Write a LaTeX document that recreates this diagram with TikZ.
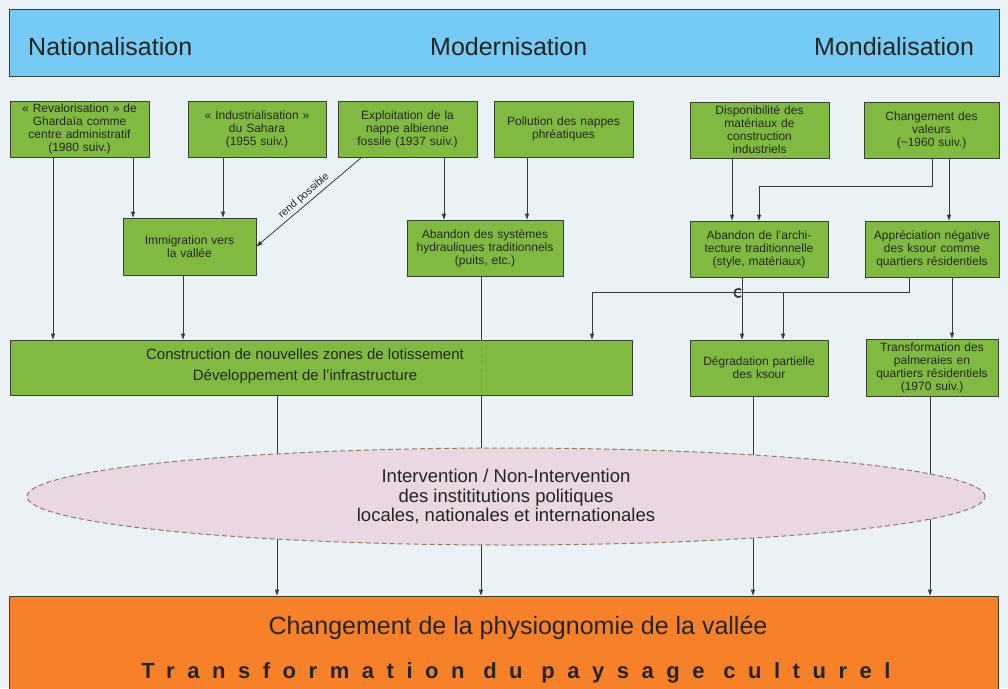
\documentclass[tikz,border=0pt]{standalone}
\usepackage{fontspec}
\setmainfont{Liberation Sans}
\newfontfamily\spacedfont{Liberation Sans}[LetterSpace=57]
\usetikzlibrary{shapes.geometric,arrows.meta,calc}
\definecolor{bgcol}{RGB}{234,242,245}
\definecolor{headblue}{RGB}{118,203,246}
\definecolor{boxgreen}{RGB}{128,186,64}
\definecolor{boxline}{RGB}{55,65,45}
\definecolor{linecol}{RGB}{55,58,55}
\definecolor{ellfill}{RGB}{233,215,226}
\definecolor{elldash}{RGB}{150,122,100}
\definecolor{orangebox}{RGB}{247,129,40}
\definecolor{txt}{RGB}{35,38,32}
\definecolor{innerdash}{RGB}{205,135,60}
\tikzset{
  gbox/.style={draw=boxline, fill=boxgreen, line width=0.8pt, inner sep=1pt,
    align=center, text=txt, font=\fontsize{12}{13}\selectfont},
  arr/.style={draw=linecol, line width=0.8pt, -{Triangle[length=6pt,width=4pt]}},
  arrrev/.style={draw=linecol, line width=0.8pt, {Triangle[length=6pt,width=4pt]}-},
  ln/.style={draw=linecol, line width=0.8pt},
  headtxt/.style={anchor=base west, inner sep=0, text=txt, font=\fontsize{25}{28}\selectfont}
}
\begin{document}
\begin{tikzpicture}[x=1pt,y=-1pt]
\fill[bgcol] (0,0) rectangle (1008,688);
\useasboundingbox (0,0) rectangle (1008,688);

% header
\node[draw=boxline, fill=headblue, line width=0.8pt, minimum width=990, minimum height=67, inner sep=0] (head) at (504,42.5) {};
\node[headtxt] (nat) at (28,55) {Nationalisation};
\node[headtxt] (mod) at (430,55) {Modernisation};
\node[headtxt] (mond) at (814,55) {Mondialisation};

% top row
\node[gbox, minimum width=139, minimum height=56, text width=135] (reval) at (79.5,129) {« Revalorisation » de\\Ghardaïa comme\\centre administratif\\(1980 suiv.)};
\node[gbox, minimum width=138, minimum height=56, text width=134] (indus) at (257,129) {« Industrialisation »\\du Sahara\\(1955 suiv.)};
\node[gbox, minimum width=139, minimum height=56, text width=135] (exploit) at (407.5,129) {Exploitation de la\\nappe albienne\\fossile (1937 suiv.)};
\node[gbox, minimum width=139, minimum height=56, text width=135] (pollu) at (563.5,129) {Pollution des nappes\\phréatiques};
\node[gbox, minimum width=139, minimum height=56, text width=135] (dispo) at (759.5,130) {Disponibilité des\\matériaux de\\construction\\industriels};
\node[gbox, minimum width=135, minimum height=56, text width=131] (chang) at (931.5,130) {Changement des\\valeurs\\(\textasciitilde1960 suiv.)};

% second row
\node[gbox, minimum width=133, minimum height=57, text width=129] (immig) at (189.5,246.5) {Immigration vers\\la vallée};
\node[gbox, minimum width=156, minimum height=56, text width=152] (abandsys) at (485,248) {Abandon des systèmes\\hydrauliques traditionnels\\(puits, etc.)};
\node[gbox, minimum width=138, minimum height=56, text width=134] (abandarch) at (759,249) {Abandon de l'archi-\\tecture traditionnelle\\(style, matériaux)};
\node[gbox, minimum width=134, minimum height=56, text width=130] (apprec) at (932,249) {Appréciation négative\\des ksour comme\\quartiers résidentiels};

% third row
\node[gbox, minimum width=622, minimum height=55] (constr) at (321,367.5) {};
\node[inner sep=0, align=center, text=txt, font=\fontsize{15}{21}\selectfont] (constrtxt) at (305,366) {Construction de nouvelles zones de lotissement\\Développement de l'infrastructure};
\node[gbox, minimum width=138, minimum height=56, text width=134] (degrad) at (759,368) {Dégradation partielle\\des ksour};
\node[gbox, minimum width=132, minimum height=57, text width=130] (transf) at (932,367.5) {Transformation des\\palmeraies en\\quartiers résidentiels\\(1970 suiv.)};

% bottom orange box
\node[draw=boxline, fill=orangebox, line width=0.8pt, minimum width=989, minimum height=104, inner sep=0] (final) at (503.5,648) {};
\node[anchor=base, inner sep=0, text=txt, font=\fontsize{25}{28}\selectfont] (phys) at (518,634) {Changement de la physiognomie de la vallée};
\node[anchor=base, inner sep=0, text=txt, font=\spacedfont\bfseries\fontsize{22}{24}\selectfont] (paysage) at (516,678) {Transformation du paysage culturel};

% x coordinates of vertical connectors
\coordinate (xa) at (53,0);
\coordinate (xb) at (133,0);
\coordinate (xc) at (223,0);
\coordinate (xd) at (183,0);
\coordinate (xe) at (444,0);
\coordinate (xf) at (527,0);
\coordinate (xg) at (732,0);
\coordinate (xj) at (949,0);
\coordinate (xk) at (742,0);
\coordinate (xn) at (952,0);
\coordinate (xp) at (277,0);
\coordinate (xq) at (481,0);
\coordinate (xr) at (753,0);
\coordinate (xs) at (930,0);
\coordinate (hA) at (932,186);
\coordinate (hB) at (759,186);
\coordinate (jA) at (909,292);
\coordinate (jB) at (592,292);
\coordinate (jM) at (783,292);

% connectors
\draw[arr] (reval.south -| xa) -- (constr.north -| xa);
\draw[arr] (reval.south -| xb) -- (immig.north -| xb);
\draw[arr] (indus.south -| xc) -- (immig.north -| xc);
\draw[arr] (immig.south -| xd) -- (constr.north -| xd);
\draw[arrrev] (immig.east) -- node[sloped, above=2pt, pos=0.5, inner sep=0.5pt, text=txt, font=\fontsize{10.5}{11}\selectfont] (rendlbl) {rend possible} ($(exploit.south west)+(24,0)$);
\draw[arr] (exploit.south -| xe) -- (abandsys.north -| xe);
\draw[arr] (pollu.south -| xf) -- (abandsys.north -| xf);
\draw[arr] (dispo.south -| xg) -- (abandarch.north -| xg);
\draw[arr] (chang.south -| hA) -- (hA) -- (hB) -- (abandarch.north -| hB);
\draw[arr] (chang.south -| xj) -- (apprec.north -| xj);
\draw[arr] (abandarch.south -| xk) -- (degrad.north -| xk);
\draw[arr] (apprec.south -| jA) -- (jA) -- (jB) -- (constr.north -| jB);
\draw[arr] (jM) -- (degrad.north -| jM);
\draw[arr] (apprec.south -| xn) -- (transf.north -| xn);
\draw[ln, line width=1.7pt] (741.2,296.2) arc[start angle=50, end angle=310, radius=4.2];

\draw[ln] (abandsys.south -| xq) -- (constr.north -| xq);
\draw[draw=innerdash, line width=0.8pt, dash pattern=on 4pt off 3pt] (constr.north -| xq) -- (constr.south -| xq);
\draw[arr] (constr.south -| xq) -- (final.north -| xq);
\draw[arr] (constr.south -| xp) -- (final.north -| xp);
\draw[arr] (degrad.south -| xr) -- (final.north -| xr);
\draw[arr] (transf.south -| xs) -- (final.north -| xs);

% ellipse on top
\node[ellipse, fill=ellfill, draw=elldash, line width=1pt, dash pattern=on 5pt off 3pt,
  minimum width=958, minimum height=97, inner sep=0, align=center, text=txt,
  font=\fontsize{18.5}{19.5}\selectfont] (inst) at (506,496.5)
  {Intervention / Non-Intervention\\des instititutions politiques\\locales, nationales et internationales};
\end{tikzpicture}
\end{document}
